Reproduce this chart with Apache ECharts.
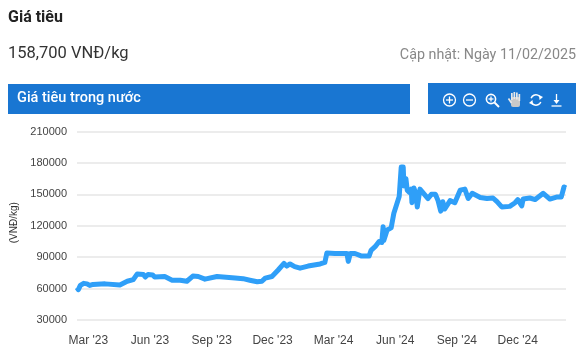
<!DOCTYPE html>
<html><head><meta charset="utf-8">
<script src="https://cdn.jsdelivr.net/npm/echarts@6/dist/echarts.min.js"></script>
<style>html,body{margin:0;padding:0;background:#fff}#c{width:583px;height:362px}</style>
</head><body><div id="c"></div>
<script>
const dates = ["2023-02-12","2023-02-14","2023-02-17","2023-02-22","2023-02-27","2023-03-03","2023-03-08","2023-03-26","2023-04-17","2023-04-28","2023-05-07","2023-05-13","2023-05-22","2023-05-25","2023-05-29","2023-06-05","2023-06-08","2023-06-23","2023-07-04","2023-07-16","2023-07-26","2023-08-04","2023-08-12","2023-08-22","2023-09-09","2023-10-06","2023-10-18","2023-10-28","2023-11-08","2023-11-15","2023-11-20","2023-11-30","2023-12-09","2023-12-18","2023-12-22","2023-12-27","2024-01-03","2024-01-11","2024-01-23","2024-02-10","2024-02-17","2024-02-20","2024-03-03","2024-03-21","2024-03-23","2024-03-26","2024-04-02","2024-04-12","2024-04-23","2024-04-26","2024-05-02","2024-05-08","2024-05-12","2024-05-14","2024-05-15","2024-05-20","2024-05-26","2024-05-30","2024-06-02","2024-06-07","2024-06-10","2024-06-13","2024-06-14","2024-06-17","2024-06-19","2024-06-22","2024-06-25","2024-06-26","2024-06-29","2024-07-02","2024-07-04","2024-07-08","2024-07-20","2024-07-25","2024-07-31","2024-08-04","2024-08-08","2024-08-11","2024-08-14","2024-08-22","2024-08-29","2024-09-06","2024-09-13","2024-09-18","2024-09-24","2024-10-06","2024-10-16","2024-10-25","2024-10-31","2024-11-07","2024-11-19","2024-11-27","2024-12-01","2024-12-07","2024-12-09","2024-12-19","2024-12-27","2025-01-08","2025-01-18","2025-01-29","2025-02-04","2025-02-08","2025-02-11"];
const prices = [61000,59000,63000,65000,64500,63000,64000,64500,63500,67000,68500,74000,73500,71000,73500,73000,71000,71500,68000,68000,67000,72000,71500,69000,71500,70000,69500,68000,66500,67000,70000,71500,77500,84000,81500,83500,81000,79500,81500,83500,85000,94000,93500,93500,86000,93500,93500,91000,91000,96500,100000,105000,104000,119000,106000,116000,118000,132000,138000,148000,176000,176000,158000,165000,154000,152000,155000,142000,156000,150000,138000,155000,146000,150000,150000,144000,134000,143000,136000,144000,142000,154000,155000,146000,151000,147000,146000,146500,143000,138000,138500,142000,145000,139000,145500,146500,145000,151000,145500,147500,147500,157000,156000];
const tickDates = ["2023-03-01","2023-06-01","2023-09-01","2023-12-01","2024-03-01","2024-06-01","2024-09-01","2024-12-01"];
const tickLabels = ["Mar '23","Jun '23","Sep '23","Dec '23","Mar '24","Jun '24","Sep '24","Dec '24"];
const yMin = 30000, yMax = 210000, yStep = 30000;
const toMs = s => Date.parse(s + "T00:00:00Z");
const tickMs = tickDates.map(toMs);

const white = "#fff";
const iconStroke = {stroke: white, fill: "none", lineWidth: 1.3};
const chart = echarts.init(document.getElementById("c"), null, {renderer: "canvas"});
chart.setOption({
  animation: false,
  grid: {left: 77, right: 17, top: 131.5, bottom: 42, containLabel: false},
  xAxis: {
    type: "value", min: toMs("2023-02-12"), max: toMs("2025-02-11"), scale: true,
    axisLine: {show: false}, axisTick: {show: false}, splitLine: {show: false},
    axisLabel: {
      customValues: tickMs, margin: 15, color: "#444", fontSize: 12, fontFamily: "Liberation Sans, Arial, sans-serif",
      hideOverlap: false,
      formatter: v => { const i = tickMs.indexOf(+v); return i >= 0 ? tickLabels[i] : ""; }
    }
  },
  yAxis: {
    type: "value", min: yMin, max: yMax, interval: yStep,
    name: "(VNĐ/kg)", nameLocation: "middle", nameGap: 56, nameRotate: 90,
    nameTextStyle: {fontSize: 10, color: "#333", fontFamily: "Liberation Sans, Arial, sans-serif", padding: [0, 0, 0, 6]},
    axisLine: {show: false}, axisTick: {show: false},
    splitLine: {lineStyle: {color: "#e6e6e6", width: 1.5}},
    axisLabel: {margin: 10, color: "#444", fontSize: 11, fontFamily: "Liberation Sans, Arial, sans-serif", formatter: v => String(v)}
  },
  series: [{
    type: "line", showSymbol: false, smooth: false, clip: false,
    lineStyle: {color: "#2f9ff8", width: 5, join: "round"},
    data: dates.map((d, i) => [toMs(d), prices[i]])
  }],
  graphic: [
    {type: "text", left: 8, top: 10, style: {text: "Giá tiêu", font: "bold 16px Roboto", fill: "#222"}},
    {type: "text", left: 8, top: 45, style: {text: "158,700 VNĐ/kg", font: "16.5px Roboto", fill: "#333"}},
    {type: "text", right: 7, top: 48, style: {text: "Cập nhật: Ngày 11/02/2025", font: "14.3px Roboto", fill: "#888"}},
    {type: "rect", shape: {x: 8, y: 84, width: 402, height: 30}, style: {fill: "#1976d2"}},
    {type: "text", left: 17, top: 91, style: {text: "Giá tiêu trong nước", font: "500 14.5px Roboto", fill: white}},
    {type: "rect", shape: {x: 428, y: 83, width: 148, height: 31}, style: {fill: "#1976d2"}},
    {type: "circle", shape: {cx: 449.5, cy: 100, r: 6}, style: iconStroke},
    {type: "line", shape: {x1: 446, y1: 100, x2: 453, y2: 100}, style: iconStroke},
    {type: "line", shape: {x1: 449.5, y1: 96.5, x2: 449.5, y2: 103.5}, style: iconStroke},
    {type: "circle", shape: {cx: 469.5, cy: 100, r: 6}, style: iconStroke},
    {type: "line", shape: {x1: 466, y1: 100, x2: 473, y2: 100}, style: iconStroke},
    {type: "circle", shape: {cx: 491, cy: 99, r: 4.6}, style: {stroke: white, fill: "none", lineWidth: 1.6}},
    {type: "line", shape: {x1: 488.5, y1: 99, x2: 493.5, y2: 99}, style: iconStroke},
    {type: "line", shape: {x1: 491, y1: 96.5, x2: 491, y2: 101.5}, style: iconStroke},
    {type: "line", shape: {x1: 494.5, y1: 102.5, x2: 499, y2: 107}, style: {stroke: white, lineWidth: 2}},
    {type: "rect", shape: {x: 511, y: 97, width: 9, height: 10, r: 2}, style: {fill: "#c9c9c9"}},
    {type: "rect", shape: {x: 511, y: 93, width: 1.7, height: 7}, style: {fill: "#e8e8e8"}},
    {type: "rect", shape: {x: 513.5, y: 92, width: 1.7, height: 7}, style: {fill: "#e8e8e8"}},
    {type: "rect", shape: {x: 516, y: 92.5, width: 1.7, height: 7}, style: {fill: "#e8e8e8"}},
    {type: "rect", shape: {x: 518.5, y: 94, width: 1.7, height: 7}, style: {fill: "#e8e8e8"}},
    {type: "line", shape: {x1: 508.5, y1: 98.5, x2: 511.5, y2: 103}, style: {stroke: "#e8e8e8", lineWidth: 1.7}},
    {type: "arc", shape: {cx: 536, cy: 100, r: 5.2, startAngle: 3.5, endAngle: 5.7}, style: {stroke: white, fill: "none", lineWidth: 1.5}},
    {type: "arc", shape: {cx: 536, cy: 100, r: 5.2, startAngle: 0.4, endAngle: 2.6}, style: {stroke: white, fill: "none", lineWidth: 1.5}},
    {type: "polygon", shape: {points: [[539,95],[543,97],[539.5,100]]}, style: {fill: white}},
    {type: "polygon", shape: {points: [[533,105],[529,103],[532.5,100]]}, style: {fill: white}},
    {type: "line", shape: {x1: 556.5, y1: 94, x2: 556.5, y2: 102}, style: iconStroke},
    {type: "polygon", shape: {points: [[553.5,100],[559.5,100],[556.5,104]]}, style: {fill: white}},
    {type: "line", shape: {x1: 551.5, y1: 106, x2: 561.5, y2: 106}, style: iconStroke}
  ]
});
</script></body></html>
